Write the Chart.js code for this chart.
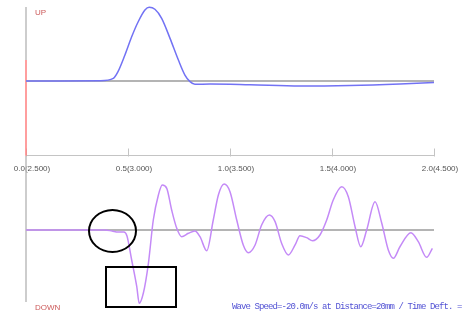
<!DOCTYPE html>
<html>
<head>
<meta charset="utf-8">
<script src="https://cdn.jsdelivr.net/npm/chart.js@4/dist/chart.umd.min.js"></script>
<style>
  html, body { margin: 0; padding: 0; background: #fff; }
  #wrap { position: relative; width: 464px; height: 320px; overflow: hidden; }
  #c { position: absolute; left: 0; top: 0; }
  .lbl { position: absolute; font-family: "Liberation Sans", sans-serif; font-size: 8px; color: #cc5a5a; white-space: nowrap; }
  #caption { position: absolute; left: 232px; top: 302px; font-family: "Liberation Mono", monospace;
             font-size: 9px; letter-spacing: -0.9px; color: #5252d4; white-space: nowrap; }
  .mark { position: absolute; border: 2px solid #000; box-sizing: border-box; }
</style>
</head>
<body>
<div id="wrap">
  <canvas id="c" width="464" height="320"></canvas>
  <div class="lbl" style="left:35px;top:8px">UP</div>
  <div class="lbl" style="left:35px;top:303px">DOWN</div>
  <div id="caption">Wave Speed=-20.0m/s at Distance=20mm / Time Deft. =</div>
  <div class="mark" style="left:88px;top:209px;width:49px;height:44px;border-radius:50%"></div>
  <div class="mark" style="left:105px;top:266px;width:72px;height:42px"></div>
</div>
<script>
// 上下波形 — 時間軸 0.0〜2.0（括弧内は 2.5 オフセット）
const $ = (s, r=document) => r.querySelector(s);

const TICK_STEP = 0.5;
const T_OFFSET = 2.5;

// UP 波形
const upTime = [0, 0.167, 0.363, 0.428, 0.451, 0.485, 0.518, 0.55, 0.583, 0.604, 0.632, 0.665,
                0.706, 0.747, 0.779, 0.804, 0.828, 0.902, 1.098, 1.343, 1.588, 1.833, 2.0];
const upAmp  = [0, 0, 0.004, 0.036, 0.125, 0.348, 0.592, 0.793, 0.95, 0.987, 0.96, 0.839,
                0.571, 0.281, 0.08, -0.009, -0.044, -0.04, -0.05, -0.067, -0.06, -0.04, -0.02];

// DOWN 波形
const downTime = [0, 0.387, 0.422, 0.451, 0.48, 0.495, 0.518, 0.543, 0.555, 0.575, 0.6, 0.624,
                  0.649, 0.668, 0.69, 0.714, 0.739, 0.763, 0.796, 0.828, 0.853, 0.886, 0.918,
                  0.943, 0.971, 1.0, 1.033, 1.065, 1.09, 1.123, 1.155, 1.193, 1.221, 1.253,
                  1.286, 1.319, 1.343, 1.376, 1.405, 1.441, 1.474, 1.506, 1.548, 1.58, 1.613,
                  1.641, 1.67, 1.711, 1.744, 1.776, 1.801, 1.833, 1.887, 1.923, 1.964, 1.992];
const downAmp  = [0, 0, -0.014, -0.027, -0.027, -0.082, -0.411, -0.777, -1.004, -0.867, -0.456, 0.137,
                  0.479, 0.616, 0.571, 0.274, 0.023, -0.092, -0.045, -0.014, -0.092, -0.284, 0.137,
                  0.479, 0.63, 0.525, 0.137, -0.205, -0.311, -0.205, 0.068, 0.205, 0.114, -0.182,
                  -0.342, -0.205, -0.078, -0.105, -0.147, -0.068, 0.137, 0.411, 0.593, 0.456, 0.045,
                  -0.229, 0, 0.388, 0.092, -0.274, -0.388, -0.229, -0.037, -0.16, -0.374, -0.251];

const pts = (xs, ys) => xs.map((x, i) => ({ x, y: ys[i] }));

// 各パネルの基準線の位置(px)と 1 単位あたりの px から y 範囲を決める
const H = 320;
const range = (basePx, unitPx) => ({ min: -(H - basePx) / unitPx, max: basePx / unitPx });
const UP_R = range(81, 74.7);
const DOWN_R = range(230, 73);

const seg = (yAxisID, data, color, width=1) => ({
  data, yAxisID, borderColor: color, borderWidth: width, pointRadius: 0,
  tension: 0, clip: false, order: 5,
});

const datasets = [
  seg('yUp',   [{x:0,y:0},{x:2,y:0}], '#b4b4b4', 2),                 // UP 基準線
  seg('yDown', [{x:0,y:0},{x:2,y:0}], '#b4b4b4', 2),                 // DOWN 基準線
  seg('yUp',   [{x:0,y:0.99},{x:0,y:0.281}], '#bdbdbd', 1.5),         // 縦軸 (上)
  seg('yUp',   [{x:0,y:0.281},{x:0,y:-1}], '#ff7f7f', 1.5),           // 縦軸 (赤)
  seg('yDown', [{x:0,y:1.018},{x:0,y:-0.986}], '#bdbdbd', 1.5),       // 縦軸 (下)
  { data: pts(upTime, upAmp), yAxisID: 'yUp', borderColor: '#7272f4', borderWidth: 1.5,
    pointRadius: 0, cubicInterpolationMode: 'monotone', order: 1 },
  { data: pts(downTime, downAmp), yAxisID: 'yDown', borderColor: '#c48af7', borderWidth: 1.5,
    pointRadius: 0, cubicInterpolationMode: 'monotone', order: 1 },
];

// 中央軸の目盛り (上向き)
const upTicks = {
  id: 'upTicks',
  beforeDatasetsDraw(chart) {
    const { ctx, scales: { x, yUp } } = chart;
    const y0 = Math.round(yUp.getPixelForValue(-1)) + 0.5;
    ctx.save();
    ctx.strokeStyle = '#c4c4c4';
    ctx.lineWidth = 1;
    for (const t of x.ticks) {
      const px = Math.round(x.getPixelForValue(t.value)) + 0.5;
      ctx.beginPath();
      ctx.moveTo(px, y0 - 8);
      ctx.lineTo(px, y0);
      ctx.stroke();
    }
    ctx.restore();
  }
};

new Chart($('#c').getContext('2d'), {
  type: 'line',
  data: { datasets },
  plugins: [upTicks],
  options: {
    responsive: false,
    animation: false,
    layout: { padding: { left: 26, right: 30, top: 0, bottom: 0 } },
    plugins: { legend: { display: false }, tooltip: { enabled: false } },
    scales: {
      x: {
        type: 'linear', min: 0, max: 2,
        position: { yUp: -1 },
        grid: { display: false },
        border: { display: true, color: '#c4c4c4', width: 1 },
        ticks: {
          stepSize: TICK_STEP, autoSkip: false, maxRotation: 0,
          padding: 0, labelOffset: 6,
          color: '#555', font: { family: 'Liberation Sans', size: 8 },
          callback: v => `${v.toFixed(1)}(${(v + T_OFFSET).toFixed(3)})`,
        },
      },
      yUp:   { display: false, min: UP_R.min, max: UP_R.max },
      yDown: { display: false, min: DOWN_R.min, max: DOWN_R.max },
    }
  }
});
</script>
</body>
</html>
